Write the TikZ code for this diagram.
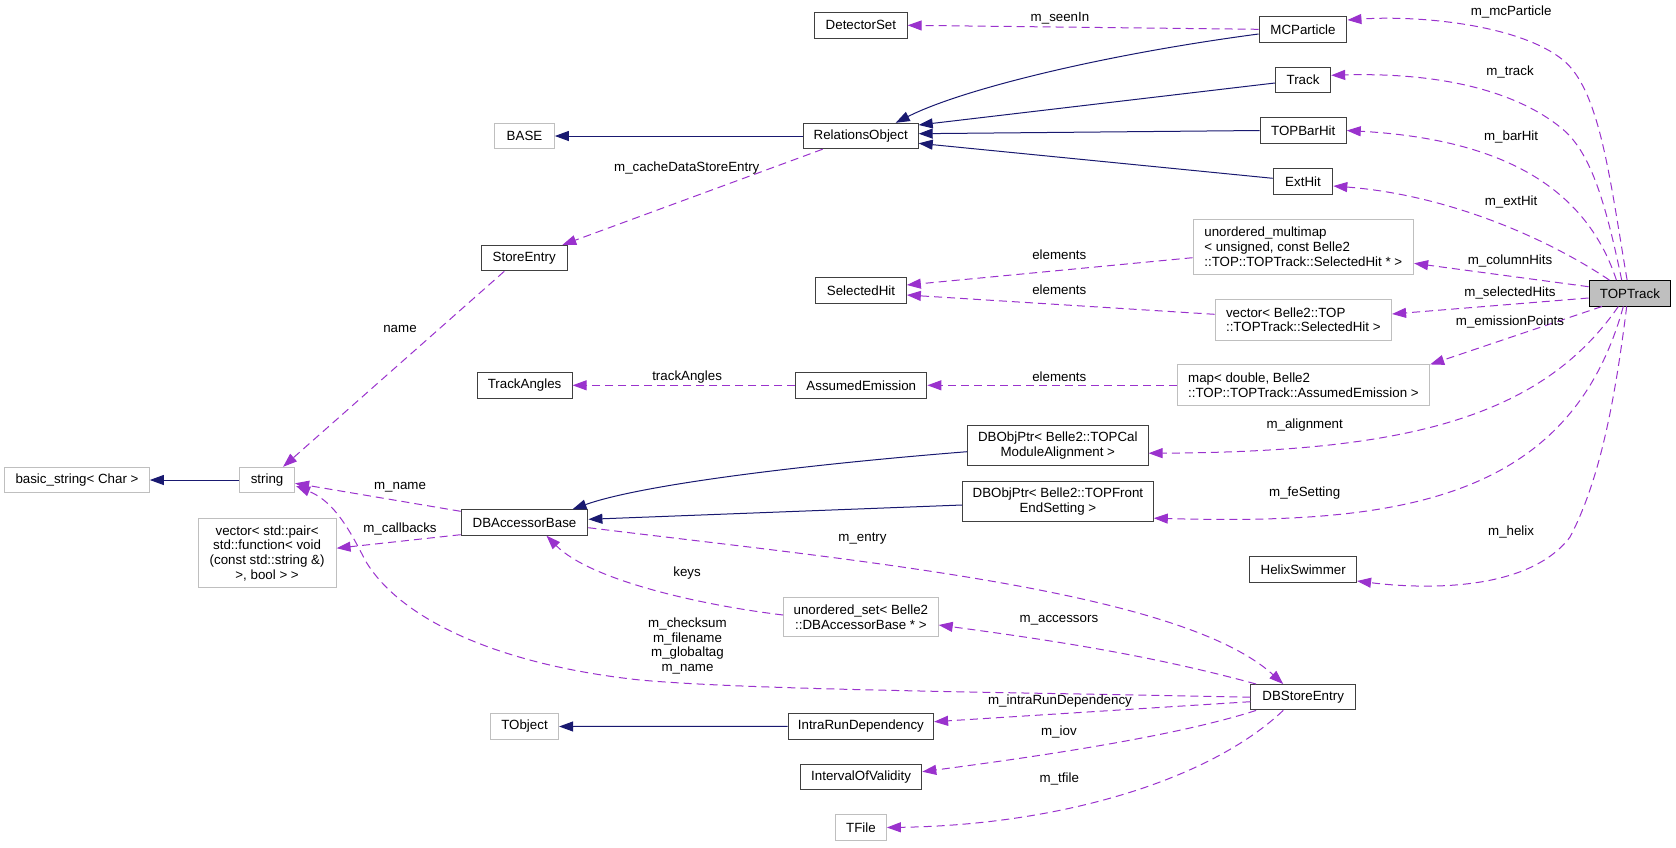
\documentclass[tikz,border=0pt]{standalone}
\usepackage{fontspec}
\setmainfont{Liberation Sans}
\usetikzlibrary{arrows.meta,calc}
\definecolor{edgep}{HTML}{9A32CD}
\definecolor{inh}{HTML}{191970}
\definecolor{gbord}{HTML}{BFBFBF}
\definecolor{bbord}{HTML}{404040}
\definecolor{selfill}{HTML}{BFBFBF}
\begin{document}
\begin{tikzpicture}[x=1pt,y=-1pt,
  font=\fontsize{13.33}{14.7}\selectfont,
  cls/.style={draw=bbord,line width=1pt,inner sep=0pt,minimum height=25.4pt,fill=white},
  ext/.style={cls,draw=gbord},
  lbl/.style={inner sep=0pt,align=center},
  refe/.style={draw=edgep,line width=1pt,dash pattern=on 8pt off 5pt,-{Triangle[length=14pt,width=10pt]}},
  inhe/.style={draw=inh,line width=1pt,-{Triangle[length=14pt,width=10pt]}}]
\useasboundingbox (0,0) rectangle (1676,847);

% nodes
\node[cls,minimum width=92.5pt] (DetectorSet) at (860.9,25.3) {DetectorSet};
\node[cls,minimum width=87.9pt] (MCParticle) at (1303,29.3) {MCParticle};
\node[cls,minimum width=55.3pt] (Track) at (1303,79.8) {Track};
\node[cls,minimum width=86.1pt] (TOPBarHit) at (1303.2,130.5) {TOPBarHit};
\node[cls,minimum width=59.6pt] (ExtHit) at (1303,181.3) {ExtHit};
\node[ext,minimum width=59.7pt] (BASE) at (524.5,136) {BASE};
\node[cls,minimum width=115pt] (RelationsObject) at (860.7,136) {RelationsObject};
\node[cls,minimum width=86.3pt] (StoreEntry) at (524.2,258.2) {StoreEntry};
\node[cls,minimum width=90.7pt] (SelectedHit) at (861,290.3) {SelectedHit};
\node[ext,minimum width=220.6pt,minimum height=55.3pt,align=left] (multimap) at (1303.3,246.7)
  {unordered\_multimap\\< unsigned, const Belle2\\::TOP::TOPTrack::SelectedHit * >};
\node[cls,draw=black,fill=selfill,minimum width=81.6pt] (TOPTrack) at (1629.9,293.3) {TOPTrack};
\node[ext,minimum width=176.6pt,minimum height=41pt,align=left] (vecTOP) at (1303.3,319.8)
  {vector< Belle2::TOP\\::TOPTrack::SelectedHit >};
\node[ext,minimum width=252.5pt,minimum height=40.7pt,align=left] (map) at (1303.4,385.3)
  {map< double, Belle2\\::TOP::TOPTrack::AssumedEmission >};
\node[cls,minimum width=95pt] (TrackAngles) at (524.6,385.3) {TrackAngles};
\node[cls,minimum width=131.1pt] (AssumedEmission) at (861.3,385.3) {AssumedEmission};
\node[cls,minimum width=180.5pt,minimum height=40.3pt,align=center] (TOPCal) at (1057.8,445.2)
  {DBObjPtr< Belle2::TOPCal\\ModuleAlignment >};
\node[cls,minimum width=190.8pt,minimum height=40.3pt,align=center] (TOPFront) at (1057.9,501.2)
  {DBObjPtr< Belle2::TOPFront\\EndSetting >};
\node[cls,minimum width=106.7pt] (HelixSwimmer) at (1303.2,569.3) {HelixSwimmer};
\node[ext,minimum width=144.7pt] (basicstring) at (77,480) {basic\_string< Char >};
\node[ext,minimum width=55pt] (string) at (267.1,480) {string};
\node[cls,minimum width=126.8pt] (DBAccessorBase) at (524.5,522.5) {DBAccessorBase};
\node[ext,minimum width=137.9pt,minimum height=69pt,align=center] (vecpair) at (267.1,553.2)
  {vector< std::pair<\\std::function< void\\(const std::string \&)\\>, bool > >};
\node[ext,minimum width=154.6pt,minimum height=39.3pt,align=center] (uset) at (860.9,617.3)
  {unordered\_set< Belle2\\::DBAccessorBase * >};
\node[cls,minimum width=104.7pt] (DBStoreEntry) at (1303.2,697.2) {DBStoreEntry};
\node[ext,minimum width=68.2pt] (TObject) at (524.5,726.5) {TObject};
\node[cls,minimum width=145.4pt] (IntraRun) at (860.9,726.3) {IntraRunDependency};
\node[cls,minimum width=121.4pt] (IOV) at (861.1,777.2) {IntervalOfValidity};
\node[ext,minimum width=50.7pt] (TFile) at (861,827.5) {TFile};

% inheritance edges
\draw[inhe] ($(MCParticle.west)+(0,4.7)$) .. controls (1100,55) and (960,90) .. ($(RelationsObject.north)+(35,0)$);
\draw[inhe] ($(Track.west)+(0,3.2)$) -- ($(RelationsObject.east)+(0,-11)$);
\draw[inhe] (TOPBarHit.west) -- ($(RelationsObject.east)+(0,-2.3)$);
\draw[inhe] ($(ExtHit.west)+(0,-3)$) -- ($(RelationsObject.east)+(0,7.3)$);
\draw[inhe] (RelationsObject.west) -- (BASE.east);
\draw[inhe] (string.west) -- (basicstring.east);
\draw[inhe] (IntraRun.west) -- (TObject.east);
\draw[inhe] ($(TOPCal.west)+(0,6.5)$) .. controls (800,465) and (640,485) .. ($(DBAccessorBase.north)+(48,0)$);
\draw[inhe] ($(TOPFront.west)+(0,3.8)$) -- ($(DBAccessorBase.east)+(0,-3.2)$);

% reference edges
\draw[refe] (MCParticle.west) -- (DetectorSet.east);
\draw[refe] ($(RelationsObject.south)+(-38,0)$) -- ($(StoreEntry.north east)+(-5.6,0)$);
\draw[refe] ($(StoreEntry.south)+(-20,0)$) -- ($(string.north)+(16,0)$);
\draw[refe] ($(DBAccessorBase.north west)+(0,2)$) -- ($(string.east)+(0,3.3)$);
\draw[refe] ($(DBAccessorBase.south west)+(0,-1)$) -- ($(vecpair.east)+(0,-5)$);
\draw[refe] (DBStoreEntry.west) .. controls (1000,692) and (750,690) .. (640,680)
  .. controls (500,665) and (400,620) .. (365,560)
  .. controls (345,520) and (330,500) .. ($(string.east)+(1,6)$);
\draw[refe] ($(DBAccessorBase.east)+(0,5.2)$) .. controls (850,560) and (1180,590) .. ($(DBStoreEntry.north)+(-20,0)$);
\draw[refe] ($(uset.west)+(0,-2.3)$) .. controls (700,605) and (590,580) .. ($(DBAccessorBase.south)+(22,0)$);
\draw[refe] ($(DBStoreEntry.north west)+(5.7,0)$) .. controls (1150,655) and (1050,640) .. ($(uset.east)+(0,7.7)$);
\draw[refe] ($(DBStoreEntry.west)+(0,4.5)$) -- ($(IntraRun.east)+(0,-4.6)$);
\draw[refe] ($(DBStoreEntry.south west)+(5.7,0)$) .. controls (1180,735) and (1050,755) .. ($(IOV.east)+(0,-5.5)$);
\draw[refe] ($(DBStoreEntry.south)+(-20,0)$) .. controls (1210,780) and (1060,825) .. (TFile.east);
\draw[refe] (AssumedEmission.west) -- (TrackAngles.east);
\draw[refe] (map.west) -- (AssumedEmission.east);
\draw[refe] ($(multimap.west)+(0,11)$) -- ($(SelectedHit.east)+(0,-5.3)$);
\draw[refe] ($(vecTOP.west)+(0,-5.5)$) -- ($(SelectedHit.east)+(0,4.7)$);
\draw[refe] ($(TOPTrack.north)+(-2.8,0)$) .. controls (1610,180) and (1600,90) .. (1563,60)
  .. controls (1520,25) and (1420,15) .. ($(MCParticle.east)+(0,-9.3)$);
\draw[refe] ($(TOPTrack.north)+(-8.2,0)$) .. controls (1605,200) and (1590,150) .. (1560,127)
  .. controls (1520,95) and (1450,72) .. ($(Track.east)+(0,-4.5)$);
\draw[refe] ($(TOPTrack.north)+(-13.5,0)$) .. controls (1590,200) and (1520,140) .. (TOPBarHit.east);
\draw[refe] ($(TOPTrack.north)+(-20.5,0)$) .. controls (1550,240) and (1450,195) .. ($(ExtHit.east)+(0,4.7)$);
\draw[refe] ($(TOPTrack.west)+(0,-6.6)$) -- ($(multimap.east)+(0,16.6)$);
\draw[refe] ($(TOPTrack.west)+(0,4.7)$) -- ($(vecTOP.east)+(0,-5.8)$);
\draw[refe] ($(TOPTrack.south)+(-28,0)$) -- (map.north east);
\draw[refe] ($(TOPTrack.south)+(-11.6,0)$) .. controls (1540,420) and (1400,452) .. ($(TOPCal.east)+(0,8)$);
\draw[refe] ($(TOPTrack.south)+(-6.6,0)$) .. controls (1570,500) and (1400,525) .. ($(TOPFront.east)+(0,17)$);
\draw[refe] ($(TOPTrack.south)+(-3.2,0)$) .. controls (1615,400) and (1600,480) .. (1570,537)
  .. controls (1530,590) and (1430,590) .. ($(HelixSwimmer.east)+(0,11.7)$);

% labels
\node[lbl] (l1) at (1060,18.3) {m\_seenIn};
\node[lbl] (l2) at (686.8,167.7) {m\_cacheDataStoreEntry};
\node[lbl] (l3) at (400,329) {name};
\node[lbl] (l4) at (1059.3,254.3) {elements};
\node[lbl] (l5) at (1059.3,290) {elements};
\node[lbl] (l6) at (687.1,376.7) {trackAngles};
\node[lbl] (l7) at (1059.3,376.7) {elements};
\node[lbl] (l8) at (400,487.7) {m\_name};
\node[lbl] (l9) at (400,529) {m\_callbacks};
\node[lbl] (l10) at (862.5,538.7) {m\_entry};
\node[lbl] (l11) at (687.1,572.7) {keys};
\node[lbl] (l12) at (687.5,646) {m\_checksum\\m\_filename\\m\_globaltag\\m\_name};
\node[lbl] (l13) at (1058.9,620) {m\_accessors};
\node[lbl] (l14) at (1060,700.7) {m\_intraRunDependency};
\node[lbl] (l15) at (1058.9,732.3) {m\_iov};
\node[lbl] (l16) at (1059.3,779) {m\_tfile};
\node[lbl] (l17) at (1511.1,11.7) {m\_mcParticle};
\node[lbl] (l18) at (1510,71.7) {m\_track};
\node[lbl] (l19) at (1511.1,136.7) {m\_barHit};
\node[lbl] (l20) at (1511.1,202.3) {m\_extHit};
\node[lbl] (l21) at (1510,260.7) {m\_columnHits};
\node[lbl] (l22) at (1510,292.7) {m\_selectedHits};
\node[lbl] (l23) at (1510,322.3) {m\_emissionPoints};
\node[lbl] (l24) at (1304.7,425) {m\_alignment};
\node[lbl] (l25) at (1304.7,492.7) {m\_feSetting};
\node[lbl] (l26) at (1511.1,532.3) {m\_helix};
\end{tikzpicture}
\end{document}
